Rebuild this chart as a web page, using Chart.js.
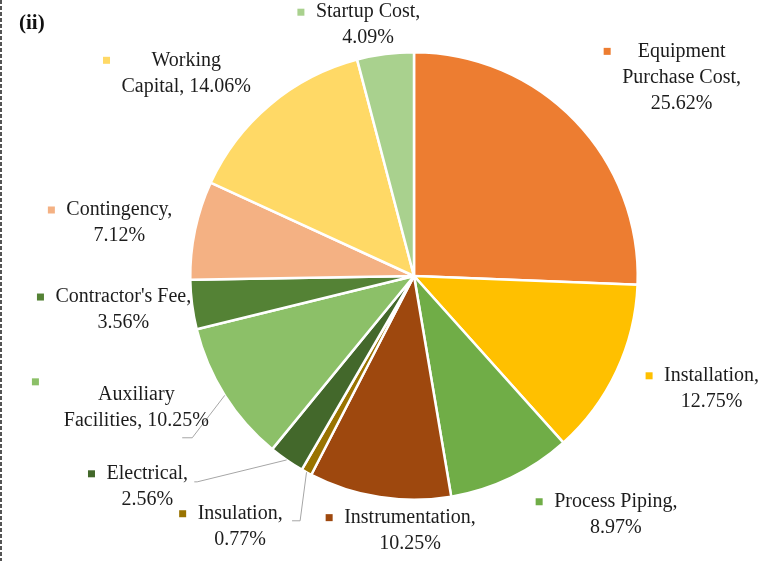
<!DOCTYPE html>
<html>
<head>
<meta charset="utf-8">
<script src="https://cdn.jsdelivr.net/npm/chart.js@4/dist/chart.umd.min.js"></script>
<style>
  html, body { margin: 0; padding: 0; background: #fff; }
  canvas { display: block; }
</style>
</head>
<body>
<canvas id="costChart" width="767" height="561"></canvas>
<script>
// Cost breakdown (ii)
const categories = [
  "Equipment Purchase Cost", "Installation", "Process Piping", "Instrumentation",
  "Insulation", "Electrical", "Auxiliary Facilities", "Contractor's Fee",
  "Contingency", "Working Capital", "Startup Cost"
];
const shares = [25.62, 12.75, 8.97, 10.25, 0.77, 2.56, 10.25, 3.56, 7.12, 14.06, 4.09];

const sliceColors = [
  "#ED7D31", "#FFC000", "#70AD47", "#9E480E", "#997300", "#43682B",
  "#8CC068", "#548235", "#F4B183", "#FFD966", "#A9D18E"
];

// label placement in units of the pie radius, measured from the centre
// words: how many words of "name, value%" go on each line
const labelPlaces = [
  { ax: 1.196, ay: -1.004, words: [1, 2, 1] },
  { ax: 1.330, ay: 0.446, words: [1, 1] },
  { ax: 0.902, ay: 1.009, words: [2, 1] },
  { ax: -0.018, ay: 1.080, words: [1, 1] },
  { ax: -0.777, ay: 1.0625, words: [1, 1], leader: [[-0.509, 1.094], [-0.545, 1.094]] },
  { ax: -1.192, ay: 0.884, words: [1, 1], leader: [[-0.969, 0.920], [-0.982, 0.920]] },
  { ax: -1.241, ay: 0.531, words: [1, 2], marker: [-1.692, 0.473], leader: [[-0.991, 0.723], [-1.036, 0.723]] },
  { ax: -1.299, ay: 0.094, words: [2, 1] },
  { ax: -1.317, ay: -0.295, words: [1, 1] },
  { ax: -1.018, ay: -0.964, words: [1, 2] },
  { ax: -0.205, ay: -1.179, words: [2, 1] }
];

const FONT = "20px 'Liberation Serif', 'Times New Roman', serif";
const LINE_H = 26;

const splitLabel = (name, value, words) => {
  const parts = (name + ", " + value.toFixed(2) + "%").split(" ");
  const lines = [];
  let i = 0;
  words.forEach((n) => {
    lines.push(parts.slice(i, i + n).join(" "));
    i += n;
  });
  return lines;
};

const pieLabels = {
  id: "pieLabels",
  afterDraw(chart) {
    const ctx = chart.ctx;
    const arcs = chart.getDatasetMeta(0).data;
    if (!arcs.length) return;
    const cx = arcs[0].x;
    const cy = arcs[0].y;
    const r = arcs[0].outerRadius;

    ctx.save();

    // dashed frame edge on the left
    ctx.strokeStyle = "#555";
    ctx.lineWidth = 2;
    ctx.setLineDash([4, 2]);
    ctx.beginPath();
    ctx.moveTo(1, 0);
    ctx.lineTo(1, chart.height);
    ctx.stroke();
    ctx.setLineDash([]);

    // panel tag
    ctx.fillStyle = "#111";
    ctx.font = "bold 21px 'Liberation Serif', 'Times New Roman', serif";
    ctx.textAlign = "left";
    ctx.textBaseline = "alphabetic";
    ctx.fillText("(ii)", 19, 29);

    ctx.font = FONT;
    ctx.textAlign = "center";
    ctx.textBaseline = "middle";

    arcs.forEach((arc, i) => {
      const place = labelPlaces[i];
      const lx = cx + place.ax * r;
      const ly = cy + place.ay * r;

      // leader line from the slice edge
      if (place.leader) {
        const mid = (arc.startAngle + arc.endAngle) / 2;
        ctx.strokeStyle = "#A6A6A6";
        ctx.lineWidth = 1;
        ctx.beginPath();
        ctx.moveTo(cx + Math.cos(mid) * r, cy + Math.sin(mid) * r);
        place.leader.forEach(([px, py]) => ctx.lineTo(cx + px * r, cy + py * r));
        ctx.stroke();
      }

      const lines = splitLabel(categories[i], shares[i], place.words);
      const widest = Math.max(...lines.map((t) => ctx.measureText(t).width));

      // legend key square
      let mx = lx - widest / 2 - 15;
      let my = ly;
      if (place.marker) {
        mx = cx + place.marker[0] * r;
        my = cy + place.marker[1] * r;
      }
      ctx.fillStyle = sliceColors[i];
      ctx.fillRect(mx - 3.5, my - 3.5, 7, 7);

      ctx.fillStyle = "#1c1c1c";
      lines.forEach((t, k) => ctx.fillText(t, lx, ly + k * LINE_H));
    });

    ctx.restore();
  }
};

const ctx = document.getElementById("costChart").getContext("2d");

const costChart = new Chart(ctx, {
  type: "pie",
  data: {
    labels: categories,
    datasets: [{
      data: shares,
      backgroundColor: sliceColors,
      borderColor: "#FFFFFF",
      borderWidth: 2.5
    }]
  },
  options: {
    responsive: false,
    animation: false,
    devicePixelRatio: 1,
    layout: {
      padding: { left: 189, right: 128, top: 51, bottom: 60 }
    },
    plugins: {
      legend: { display: false },
      tooltip: { enabled: false }
    }
  },
  plugins: [pieLabels]
});
</script>
</body>
</html>
